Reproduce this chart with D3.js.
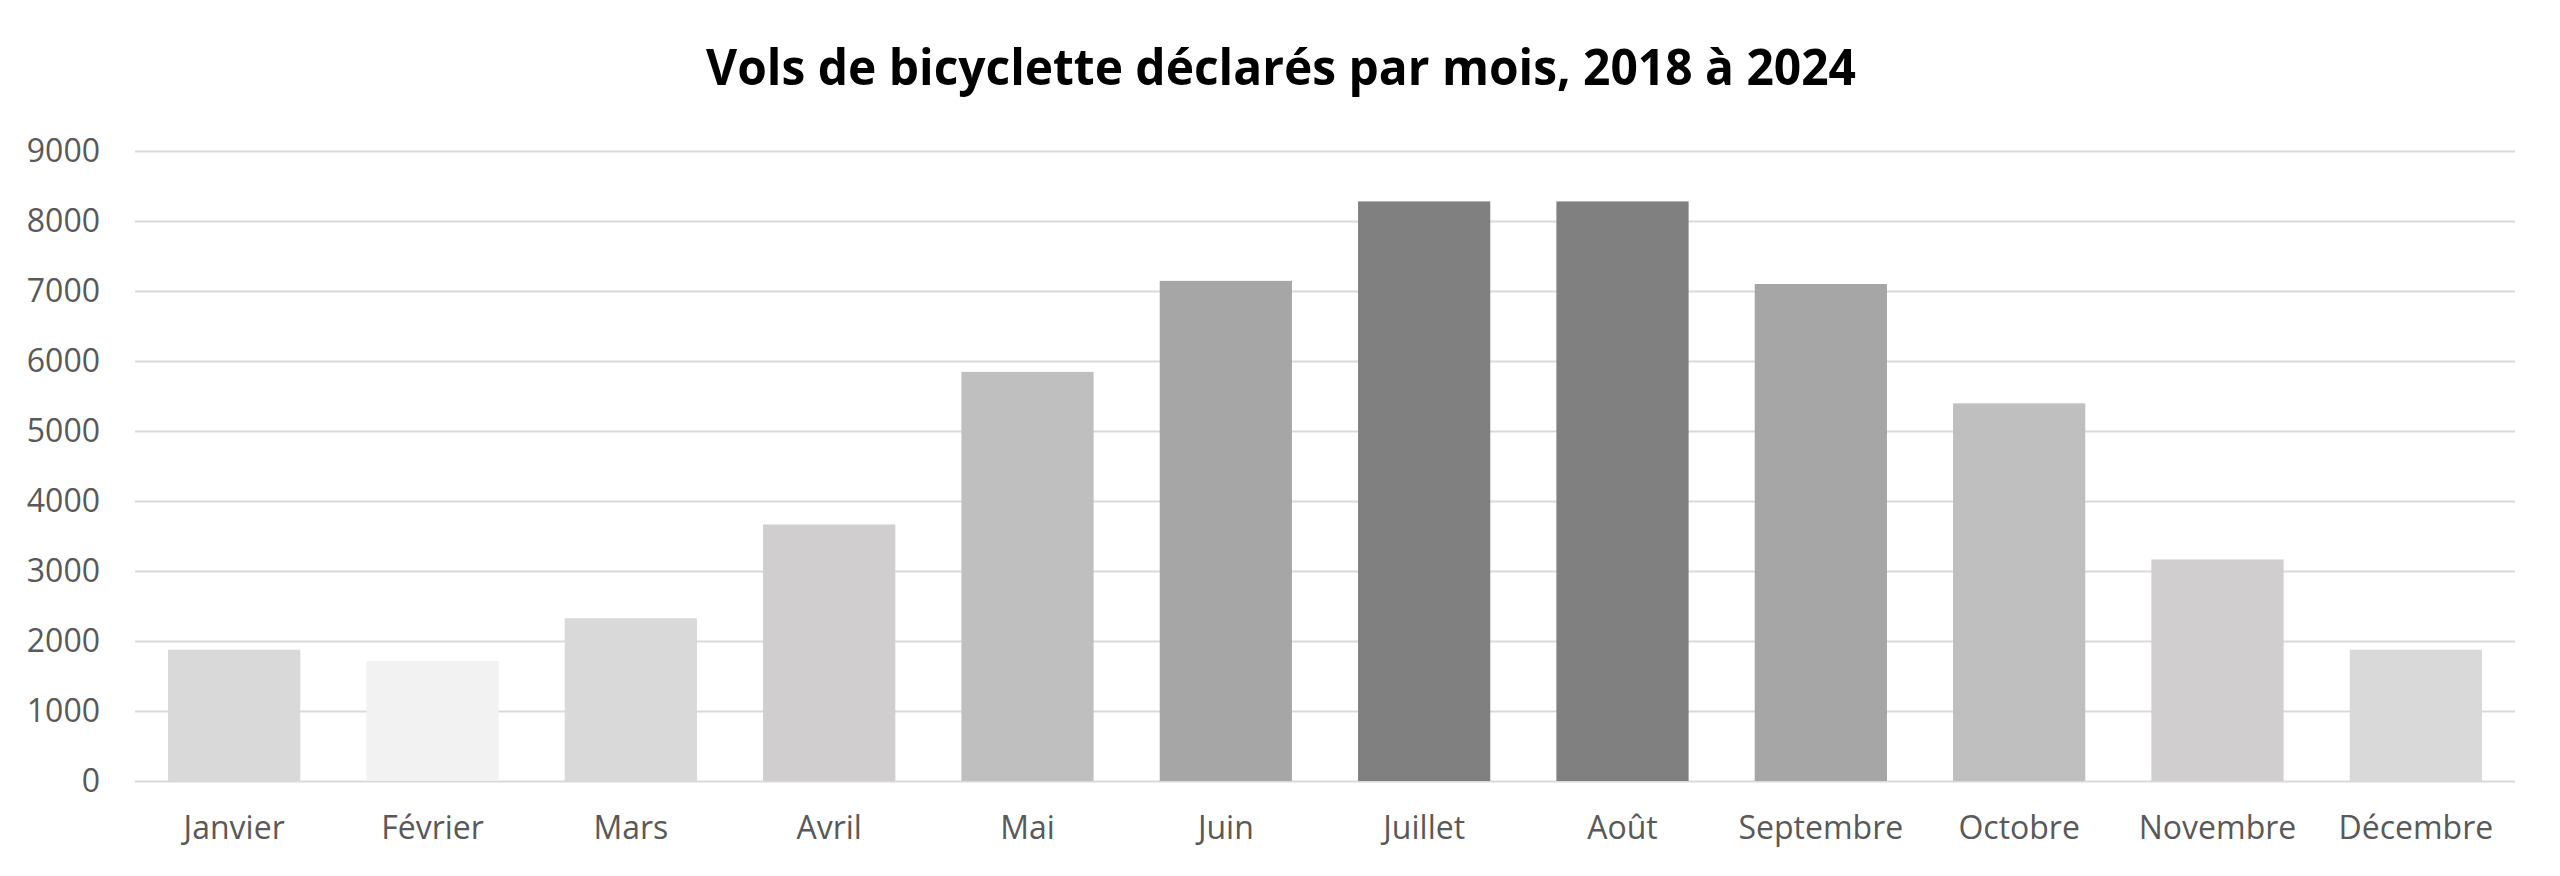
<!DOCTYPE html>
<html lang="fr">
<head>
<meta charset="utf-8">
<title>Vols de bicyclette déclarés par mois</title>
<script src="https://cdn.jsdelivr.net/npm/d3@7"></script>
<style>
  body { margin: 0; background: #fff; }
  svg { display: block; }
  .tick text { font-family: "Open Sans", sans-serif; font-size: 32px; fill: #595959; }
  .title { font-family: "Open Sans", sans-serif; font-weight: bold; font-size: 51px; fill: #000; }
</style>
</head>
<body>
<svg id="chart" width="2560" height="876"></svg>
<script>
// data
var months = ["Janvier", "Février", "Mars", "Avril", "Mai", "Juin",
              "Juillet", "Août", "Septembre", "Octobre", "Novembre", "Décembre"];
var thefts = [1875, 1715, 2325, 3665, 5845, 7145, 8280, 8280, 7100, 5395, 3165, 1875];
var yTicks = [0, 1000, 2000, 3000, 4000, 5000, 6000, 7000, 8000, 9000];

// one grey per month, as in the original
var barColors = ["#d9d9d9", "#f2f2f2", "#d9d9d9", "#d0cece", "#bfbfbf", "#a6a6a6",
                 "#808080", "#808080", "#a6a6a6", "#bfbfbf", "#d0cece", "#d9d9d9"];

var svg = d3.select("#chart");
// (window.top is reserved, so plotTop/plotBottom)
var plotLeft = 135, plotRight = 2515, plotTop = 151, plotBottom = 781;

var x = d3.scaleBand()
  .domain(months)
  .range([plotLeft, plotRight])
  .paddingInner(1 / 3)
  .paddingOuter(1 / 6);

var y = d3.scaleLinear()
  .domain([0, 9000])
  .range([plotBottom, plotTop]);

// gridlines + y labels
var yAxis = svg.append("g")
  .attr("transform", "translate(" + plotLeft + ",0)")
  .call(d3.axisLeft(y)
    .tickValues(yTicks)
    .tickFormat(d3.format("d"))
    .tickSize(-(plotRight - plotLeft))
    .tickPadding(35));
yAxis.select(".domain").remove();
yAxis.selectAll(".tick line").attr("stroke", "#d9d9d9").attr("stroke-width", 2);
yAxis.selectAll(".tick text").attr("font-family", null).attr("font-size", null);

// bars
svg.append("g")
  .selectAll("rect")
  .data(thefts)
  .enter()
  .append("rect")
  .attr("x", function(d, i) { return x(months[i]); })
  .attr("y", function(d) { return y(d); })
  .attr("width", x.bandwidth())
  .attr("height", function(d) { return y(0) - y(d); })
  .attr("fill", function(d, i) { return barColors[i]; });

// month labels
var xAxis = svg.append("g")
  .attr("transform", "translate(0," + plotBottom + ")")
  .call(d3.axisBottom(x).tickSize(0).tickPadding(35));
xAxis.select(".domain").remove();
xAxis.selectAll(".tick text").attr("font-family", null).attr("font-size", null);

// title
svg.append("text")
  .attr("class", "title")
  .attr("x", 1281)
  .attr("y", 85)
  .attr("text-anchor", "middle")
  .attr("textLength", 1150)
  .attr("lengthAdjust", "spacingAndGlyphs")
  .text("Vols de bicyclette déclarés par mois, 2018 à 2024");
</script>
</body>
</html>
